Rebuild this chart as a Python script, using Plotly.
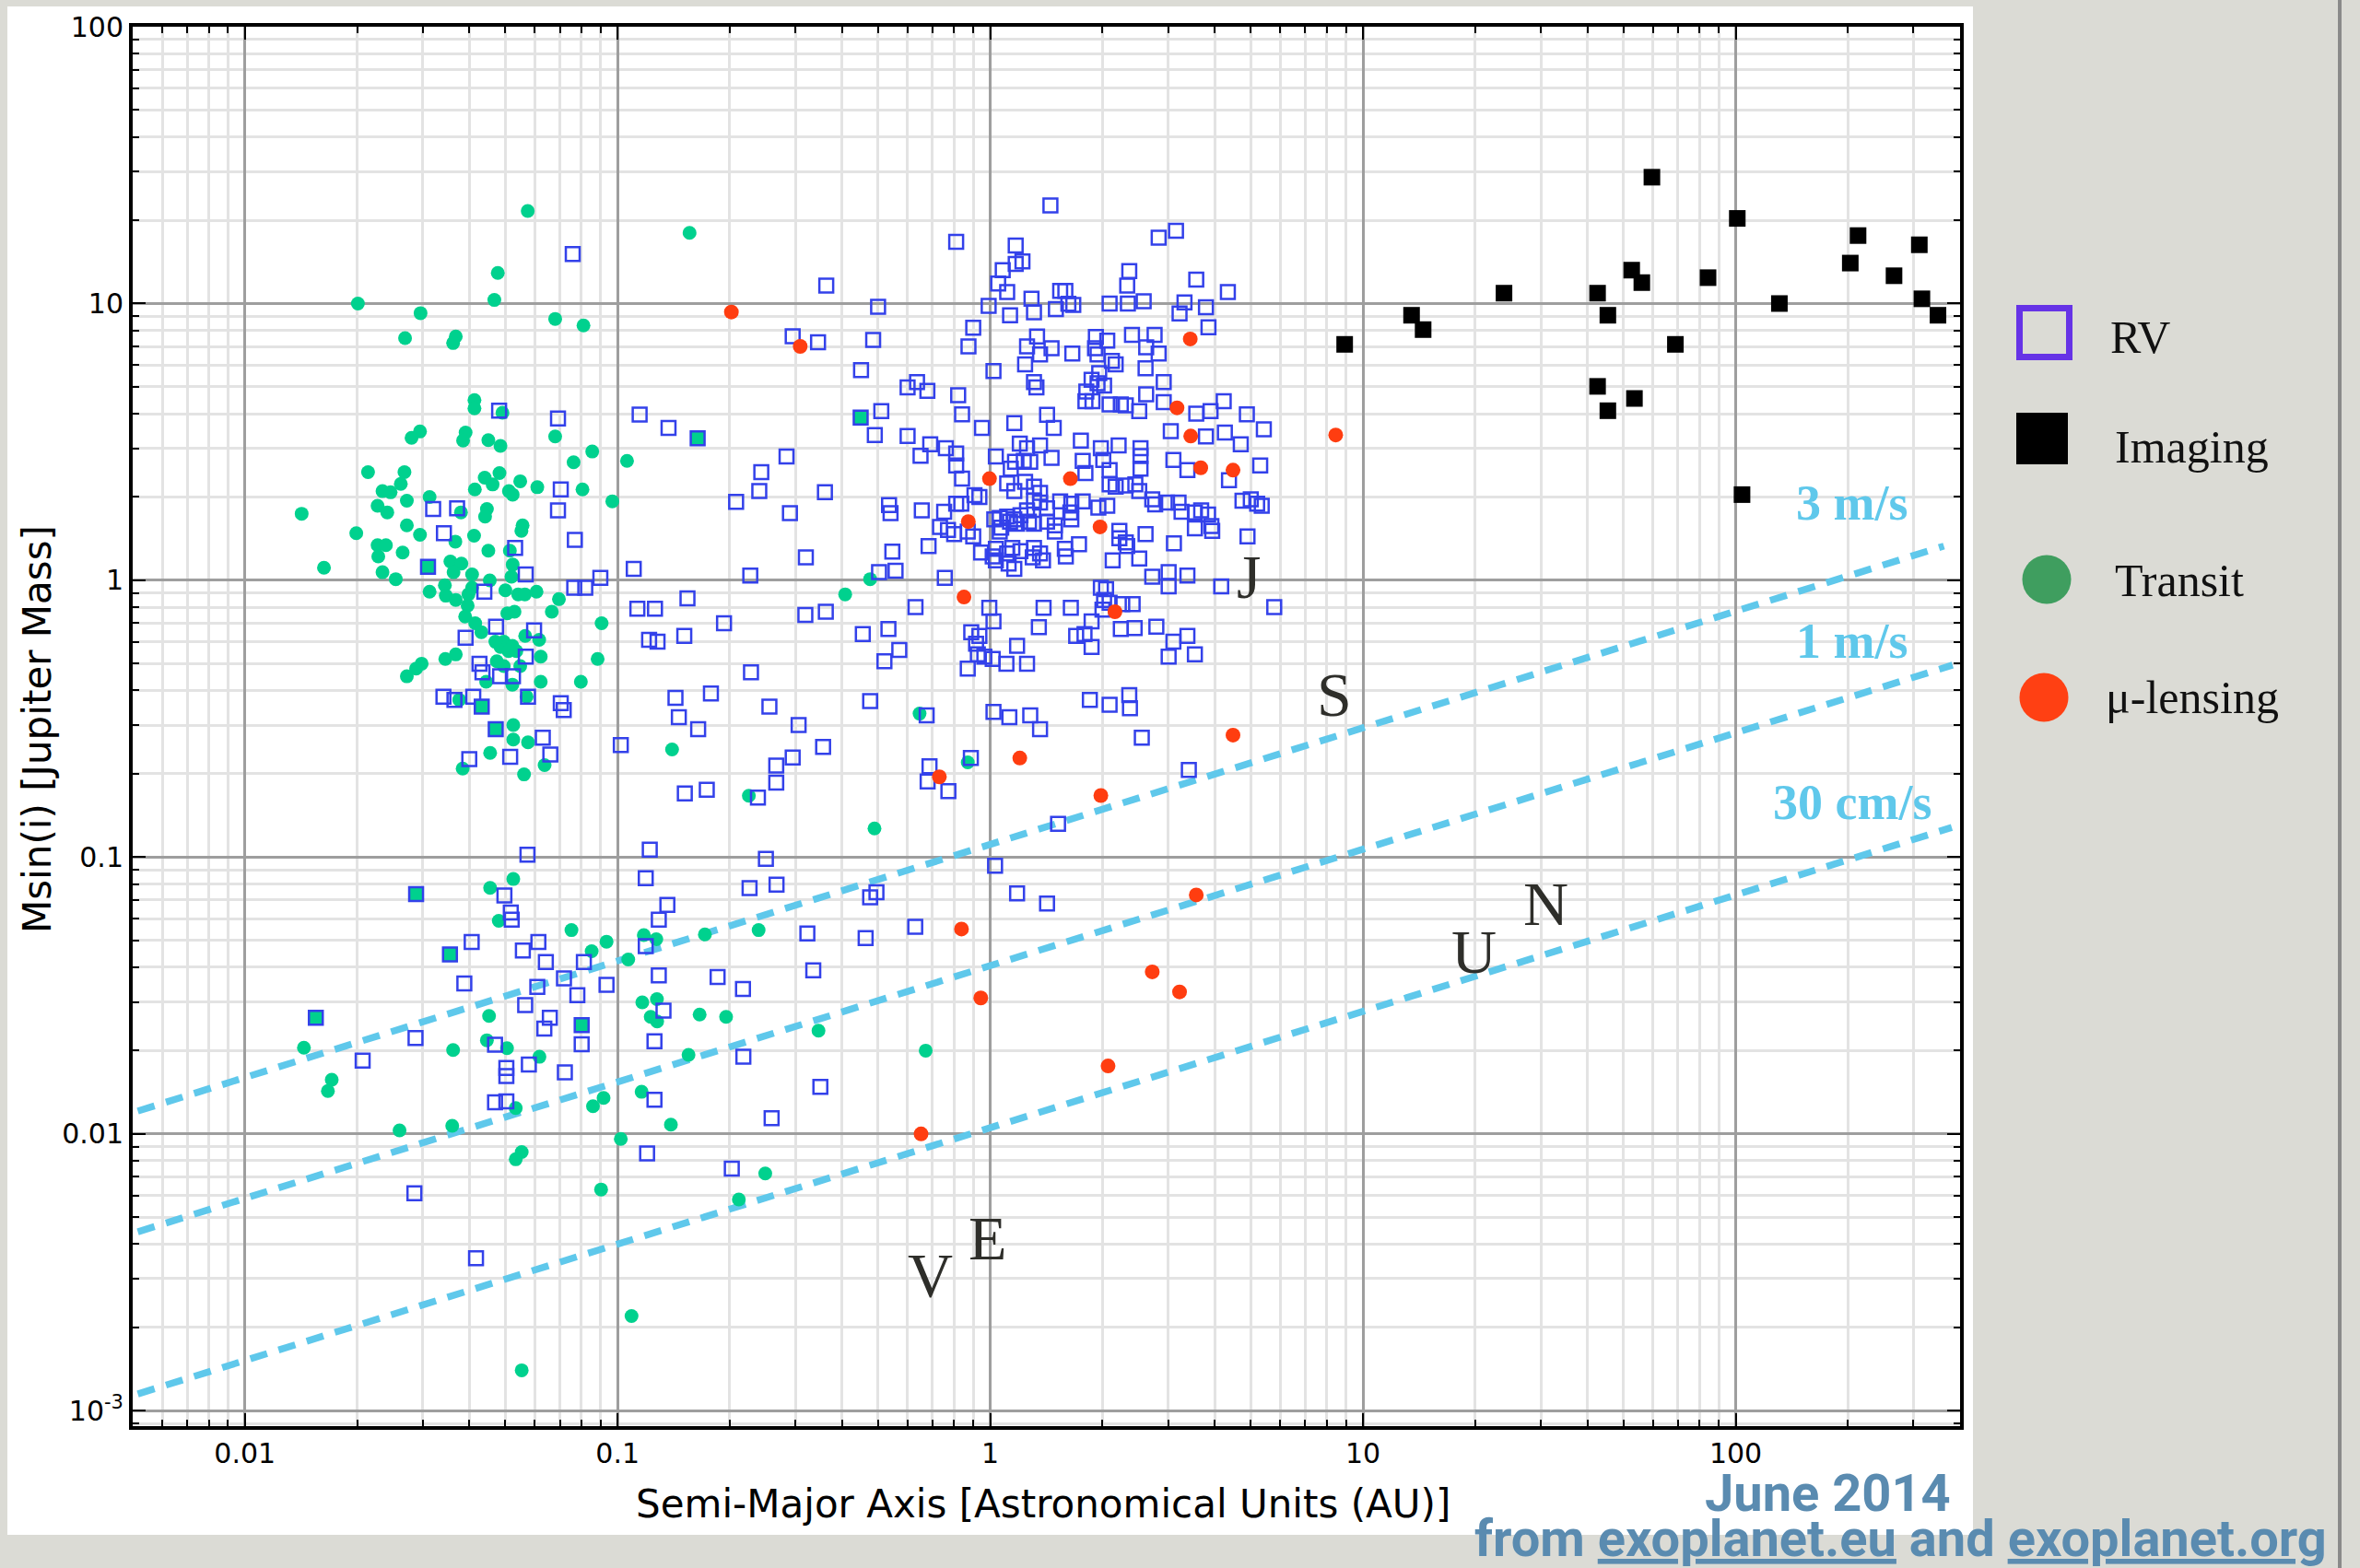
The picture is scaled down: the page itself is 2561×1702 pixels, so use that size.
import math
import plotly.graph_objects as go

# ---------------------------------------------------------------- page geometry
W, H = 2561, 1702
PL, PT, PWID, PHGT = 144, 29, 1983, 1519          # plot area (px)


def px(x):
    """page pixel column -> paper x"""
    return (x - PL) / PWID


def py(y):
    """page pixel row -> paper y"""
    return (PT + PHGT - y) / PHGT


# ---------------------------------------------------------------- axes
x_range_au = [0.005, 400]
y_range_mj = [0.00088, 100]
x_tickvals = [0.01, 0.1, 1, 10, 100]
x_ticktext = ["0.01", "0.1", "1", "10", "100"]
y_tickvals = [0.001, 0.01, 0.1, 1, 10, 100]
y_ticktext = ["10<sup>-3</sup>", "0.01", "0.1", "1", "10", "100"]

# ---------------------------------------------------------------- planets (a [AU], Msin(i) [MJ])
rv_points = [
    (1.45, 22.6), (0.81, 16.7), (2.83, 17.3), (3.15, 18.3), (1.17, 16.2), (1.22, 14.2), (1.17, 13.9),
    (1.08, 13.2), (1.05, 11.8), (0.363, 11.6), (2.36, 13.1), (2.33, 11.6), (3.57, 12.2), (4.34, 11.0),
    (1.11, 11.0), (1.54, 11.1), (1.59, 11.1), (1.29, 10.4), (1.67, 9.88), (1.62, 9.98), (0.99, 9.8),
    (0.50, 9.73), (1.13, 9.06), (1.31, 9.3), (1.50, 9.55), (2.09, 10.0), (2.34, 10.0), (2.58, 10.2),
    (3.32, 10.1), (3.22, 9.2), (3.79, 9.7), (3.85, 8.2), (0.90, 8.17), (0.345, 7.25), (0.485, 7.39),
    (0.874, 7.0), (1.335, 7.6), (1.255, 7.0), (1.36, 6.55), (1.46, 6.9), (1.66, 6.6), (1.92, 7.57),
    (2.06, 7.35), (1.91, 6.9), (1.94, 6.55), (2.40, 7.7), (2.76, 7.7), (2.62, 6.95), (2.83, 6.6),
    (2.17, 6.03), (2.12, 6.2), (2.61, 5.83), (1.24, 6.03), (1.02, 5.7), (0.45, 5.75), (1.96, 5.6),
    (1.87, 5.3), (2.02, 5.05), (1.94, 5.15), (2.92, 5.2), (1.31, 5.2), (1.33, 4.98), (0.60, 4.98),
    (0.636, 5.2), (0.678, 4.84), (0.82, 4.66), (1.81, 4.81), (1.80, 4.44), (1.88, 4.44), (2.09, 4.32),
    (2.24, 4.32), (2.31, 4.29), (2.51, 4.09), (2.62, 4.7), (2.92, 4.4), (3.57, 4.0), (3.90, 4.09),
    (4.23, 4.44), (4.88, 3.98), (5.42, 3.51), (3.05, 3.46), (3.79, 3.31), (4.26, 3.42), (4.70, 3.10),
    (0.51, 4.09), (0.49, 3.35), (0.60, 3.32), (0.84, 3.98), (0.95, 3.55), (1.16, 3.70), (1.42, 3.96),
    (1.48, 3.55), (0.65, 2.82), (0.69, 3.10), (0.76, 3.0), (0.81, 2.87), (0.81, 2.6), (1.035, 2.80),
    (1.20, 3.12), (1.255, 3.0), (1.36, 3.07), (1.46, 2.77), (1.165, 2.68), (1.135, 2.53), (1.23, 2.7),
    (1.28, 2.68), (1.75, 3.20), (1.77, 2.7), (1.80, 2.44), (1.98, 3.0), (2.21, 3.07), (2.09, 2.5),
    (2.01, 2.72), (2.53, 3.0), (2.53, 2.81), (2.53, 2.53), (3.10, 2.72), (3.38, 2.5), (5.30, 2.6),
    (4.37, 2.3), (0.84, 2.33), (1.11, 2.24), (1.16, 2.1), (1.24, 2.27), (1.31, 2.18), (1.36, 2.07),
    (2.09, 2.22), (2.17, 2.18), (2.31, 2.2), (2.45, 2.22), (2.51, 2.1), (0.36, 2.08), (0.535, 1.87),
    (0.54, 1.75), (0.655, 1.79), (0.752, 1.77), (0.81, 1.89), (0.836, 1.89), (0.935, 2.0), (0.907, 2.03),
    (1.06, 1.68), (1.11, 1.70), (1.16, 1.66), (1.205, 1.72), (1.255, 1.79), (1.31, 1.94), (1.36, 1.91),
    (1.42, 1.82), (1.54, 1.93), (1.65, 1.89), (1.64, 1.76), (1.77, 1.93), (1.95, 1.83), (2.06, 1.86),
    (2.72, 1.96), (2.77, 1.88), (2.98, 1.91), (3.2, 1.91), (3.26, 1.77), (3.54, 1.76), (3.68, 1.79),
    (3.84, 1.73), (3.92, 1.57), (3.94, 1.51), (4.75, 1.94), (5.0, 1.96), (5.2, 1.89), (5.35, 1.86),
    (4.90, 1.44), (0.733, 1.56), (0.77, 1.52), (0.80, 1.47), (0.87, 1.50), (0.90, 1.44), (1.025, 1.66),
    (1.07, 1.55), (1.06, 1.50), (1.13, 1.63), (1.18, 1.60), (1.27, 1.63), (1.31, 1.60), (1.42, 1.63),
    (1.49, 1.58), (1.49, 1.50), (1.65, 1.66), (3.54, 1.54), (2.22, 1.51), (2.61, 1.47), (2.22, 1.42),
    (2.31, 1.37), (2.33, 1.33), (2.51, 1.20), (3.11, 1.36), (0.683, 1.33), (0.546, 1.27), (0.945, 1.26),
    (1.035, 1.30), (1.015, 1.22), (1.11, 1.25), (1.146, 1.31), (1.205, 1.275), (1.31, 1.31), (1.36, 1.25),
    (1.385, 1.18), (1.30, 1.21), (1.585, 1.30), (1.595, 1.22), (1.73, 1.35), (2.13, 1.18), (1.035, 1.18),
    (1.12, 1.15), (1.16, 1.10), (0.503, 1.07), (0.557, 1.084), (0.755, 1.02), (2.72, 1.03), (3.01, 1.07),
    (3.01, 0.95), (3.38, 1.04), (4.165, 0.95), (1.98, 0.94), (2.045, 0.93), (2.02, 0.85), (2.09, 0.83),
    (2.0, 0.784), (2.26, 0.82), (2.41, 0.82), (5.78, 0.80), (0.362, 0.77), (0.63, 0.80), (0.994, 0.795),
    (1.02, 0.71), (1.39, 0.795), (1.645, 0.795), (1.35, 0.678), (0.455, 0.64), (0.533, 0.667),
    (0.889, 0.65), (0.935, 0.63), (0.916, 0.59), (1.18, 0.58), (1.70, 0.63), (1.79, 0.64), (1.87, 0.71),
    (2.24, 0.667), (2.44, 0.672), (2.79, 0.68), (3.10, 0.60), (3.38, 0.63), (1.87, 0.575), (0.57, 0.56),
    (0.52, 0.51), (0.926, 0.54), (0.964, 0.53), (1.015, 0.52), (0.87, 0.48), (1.105, 0.50), (1.255, 0.50),
    (3.01, 0.53), (3.54, 0.54), (0.476, 0.366), (1.02, 0.335), (1.125, 0.32), (1.28, 0.325), (1.36, 0.29),
    (1.85, 0.37), (2.09, 0.355), (2.36, 0.385), (2.37, 0.345), (0.675, 0.325), (0.356, 0.25), (2.55, 0.27),
    (0.0758, 15.1), (0.295, 7.62), (0.0481, 4.1), (0.0692, 3.84), (0.1146, 3.97), (0.137, 3.55),
    (0.284, 2.80), (0.243, 2.46), (0.24, 2.10), (0.208, 1.92), (0.29, 1.75), (0.0704, 2.13),
    (0.0692, 1.79), (0.032, 1.81), (0.0371, 1.82), (0.0342, 1.48), (0.0768, 1.40), (0.0531, 1.31),
    (0.32, 1.21), (0.0567, 1.05), (0.1105, 1.10), (0.227, 1.04), (0.0899, 1.02), (0.0765, 0.94),
    (0.0819, 0.94), (0.0439, 0.91), (0.113, 0.79), (0.126, 0.79), (0.154, 0.86), (0.193, 0.70),
    (0.319, 0.75), (0.1215, 0.61), (0.128, 0.60), (0.151, 0.63), (0.228, 0.465), (0.143, 0.376),
    (0.146, 0.32), (0.178, 0.39), (0.1645, 0.29), (0.2555, 0.35), (0.306, 0.30), (0.102, 0.254),
    (0.0391, 0.62), (0.0472, 0.68), (0.0597, 0.66), (0.0567, 0.53), (0.0426, 0.50), (0.0434, 0.465),
    (0.0484, 0.45), (0.0524, 0.45), (0.0341, 0.38), (0.0365, 0.37), (0.041, 0.38), (0.0575, 0.38),
    (0.0704, 0.36), (0.0717, 0.34), (0.063, 0.27), (0.066, 0.235),
    (0.295, 0.229), (0.687, 0.213), (0.679, 0.1875), (0.772, 0.173), (0.887, 0.228), (1.52, 0.132),
    (3.41, 0.2065), (1.03, 0.093), (1.18, 0.074), (1.42, 0.068), (0.476, 0.0716), (0.495, 0.0747),
    (0.323, 0.053), (0.463, 0.051), (0.629, 0.056), (0.335, 0.039), (0.35, 0.0148),
    (0.040, 0.226), (0.0515, 0.2305), (0.2665, 0.214), (0.2665, 0.186), (0.238, 0.164), (0.1515, 0.17),
    (0.1735, 0.175), (0.122, 0.1065), (0.0573, 0.102), (0.25, 0.0985), (0.119, 0.084), (0.226, 0.0773),
    (0.267, 0.0795), (0.136, 0.0672), (0.129, 0.0594), (0.0497, 0.0727), (0.0517, 0.0631), (0.052, 0.0594),
    (0.0406, 0.0494), (0.0388, 0.035), (0.0613, 0.0494), (0.0557, 0.046), (0.0642, 0.0418),
    (0.0812, 0.0418), (0.0718, 0.0365), (0.0609, 0.034), (0.078, 0.0317), (0.0934, 0.0346),
    (0.119, 0.0477), (0.129, 0.0374), (0.1855, 0.0369), (0.217, 0.0334), (0.0565, 0.0292),
    (0.0658, 0.0263), (0.0636, 0.024), (0.0801, 0.0211), (0.1256, 0.0216), (0.1328, 0.0279),
    (0.2175, 0.019), (0.0722, 0.0167), (0.0578, 0.0178), (0.0469, 0.021), (0.0287, 0.0222),
    (0.0207, 0.0184), (0.0503, 0.0173), (0.0503, 0.0162), (0.0469, 0.013), (0.0503, 0.0131),
    (0.1256, 0.0133), (0.259, 0.0114), (0.120, 0.0085), (0.2025, 0.0075), (0.0285, 0.0061),
    (0.0417, 0.00356),
]

# planets found by RV that also transit
rv_transit_points = [
    (0.164, 3.26), (0.031, 1.12), (0.0432, 0.35), (0.0471, 0.29), (0.449, 3.87),
    (0.0288, 0.0736), (0.0355, 0.0445), (0.0155, 0.0263), (0.0801, 0.0247),
]

transit_points = [
    (0.0574, 21.6), (0.156, 18.0), (0.0477, 12.9), (0.0467, 10.3), (0.0201, 10.0), (0.0296, 9.23),
    (0.068, 8.8), (0.081, 8.33), (0.0269, 7.5), (0.0368, 7.6), (0.0362, 7.2), (0.0413, 4.48),
    (0.0413, 4.18), (0.0491, 4.03), (0.0295, 3.45), (0.028, 3.27), (0.0391, 3.42), (0.0385, 3.2),
    (0.045, 3.21), (0.0485, 3.06), (0.068, 3.31), (0.0855, 2.92), (0.0762, 2.67), (0.106, 2.70),
    (0.0214, 2.46), (0.0268, 2.46), (0.0262, 2.23), (0.0482, 2.44), (0.044, 2.35), (0.0462, 2.22),
    (0.0548, 2.28), (0.0609, 2.17), (0.0511, 2.10), (0.0523, 2.04), (0.0414, 2.13), (0.0805, 2.13),
    (0.0968, 1.93), (0.0234, 2.10), (0.0246, 2.08), (0.0272, 1.94), (0.0227, 1.86), (0.0241, 1.76),
    (0.0142, 1.74), (0.0313, 2.00), (0.038, 1.76), (0.0446, 1.81), (0.0441, 1.70), (0.0272, 1.58),
    (0.0556, 1.58), (0.0552, 1.51), (0.0199, 1.48), (0.0295, 1.46), (0.0367, 1.38), (0.0412, 1.45),
    (0.0227, 1.34), (0.0239, 1.34), (0.0265, 1.26), (0.0228, 1.22), (0.045, 1.28), (0.0514, 1.28),
    (0.0163, 1.11), (0.0234, 1.07), (0.0254, 1.01), (0.0356, 1.17), (0.0381, 1.15), (0.0363, 1.07),
    (0.0407, 1.05), (0.0523, 1.14), (0.0519, 1.03), (0.0454, 1.00), (0.0344, 0.96), (0.0313, 0.91),
    (0.0346, 0.88), (0.0368, 0.85), (0.0398, 0.89), (0.0407, 0.94), (0.050, 0.92), (0.0541, 0.89),
    (0.0564, 0.89), (0.0606, 0.91), (0.0696, 0.855), (0.0666, 0.77), (0.0906, 0.70), (0.0884, 0.52),
    (0.0797, 0.43), (0.0396, 0.81), (0.039, 0.74), (0.0415, 0.70), (0.0431, 0.65), (0.0506, 0.76),
    (0.0529, 0.77), (0.0495, 0.60), (0.0522, 0.58), (0.0565, 0.63), (0.0616, 0.61), (0.0622, 0.53),
    (0.0622, 0.43), (0.0345, 0.52), (0.0368, 0.54), (0.0298, 0.50), (0.0288, 0.48), (0.0272, 0.45),
    (0.0474, 0.51), (0.0495, 0.49), (0.0548, 0.49), (0.0444, 0.43), (0.0522, 0.42), (0.057, 0.38),
    (0.0376, 0.37), (0.0525, 0.30), (0.0525, 0.266), (0.0575, 0.26), (0.0455, 0.238), (0.14, 0.245),
    (0.0485, 0.575), (0.051, 0.555), (0.0535, 0.555), (0.047, 0.60),
    (0.476, 1.01), (0.408, 0.89), (0.646, 0.33),
    (0.87, 0.22), (0.489, 0.127), (0.346, 0.0236), (0.671, 0.0200),
    (0.0637, 0.215), (0.0561, 0.199), (0.0384, 0.209), (0.225, 0.1666), (0.0525, 0.0834),
    (0.0455, 0.0774), (0.048, 0.0589), (0.0752, 0.0545), (0.0934, 0.0495), (0.0852, 0.0457),
    (0.1068, 0.0427), (0.1176, 0.0523), (0.127, 0.0505), (0.1715, 0.0526), (0.239, 0.0545),
    (0.0452, 0.0267), (0.0362, 0.0201), (0.0446, 0.0218), (0.0505, 0.0204), (0.0617, 0.019),
    (0.1165, 0.0299), (0.1275, 0.0307), (0.1227, 0.0265), (0.1277, 0.0255), (0.166, 0.027),
    (0.1955, 0.0265), (0.155, 0.0193), (0.116, 0.0142), (0.0917, 0.0135), (0.0144, 0.0205),
    (0.0171, 0.0157), (0.0167, 0.0143),
    (0.0533, 0.0124), (0.0859, 0.0126), (0.139, 0.0108), (0.026, 0.0103), (0.036, 0.0107),
    (0.102, 0.0096), (0.0553, 0.0086), (0.0533, 0.0081), (0.0903, 0.0063), (0.249, 0.0072),
    (0.2115, 0.0058), (0.109, 0.0022), (0.0553, 0.0014),
]

lensing_points = [
    (0.202, 9.32), (0.309, 7.0), (3.44, 7.45), (3.17, 4.2), (3.45, 3.32), (3.67, 2.55), (4.48, 2.5),
    (0.995, 2.33), (1.64, 2.33), (0.873, 1.63), (1.97, 1.56), (0.85, 0.87), (2.16, 0.77), (4.48, 0.276),
    (8.45, 3.35), (1.20, 0.228), (0.73, 0.195), (1.98, 0.167), (3.57, 0.073), (0.837, 0.055),
    (2.72, 0.0385), (3.22, 0.0326), (0.943, 0.031), (2.07, 0.0176), (0.652, 0.0100),
]

imaging_points = [
    (59.6, 28.6), (101, 20.3), (213, 17.6), (311, 16.3), (203, 14.0), (266, 12.6), (52.6, 13.2),
    (56.0, 11.9), (84.3, 12.4), (23.9, 10.9), (42.6, 10.9), (45.4, 9.07), (131, 10.0), (316, 10.4),
    (349, 9.07), (13.5, 9.07), (14.5, 8.05), (8.93, 7.12), (68.9, 7.12), (42.6, 5.02), (45.4, 4.10),
    (53.5, 4.54), (104, 2.04),
]

# RV semi-amplitude detection limits (end points of each line)
k_labels = ["3 m/s", "1 m/s", "30 cm/s"]
k_line_au = [[0.00516, 362], [0.00516, 382], [0.00516, 380]]
k_line_mass = [[0.0121, 1.33], [0.00443, 0.494], [0.00115, 0.128]]
k_label_au = 205.6
k_label_mass = [1.90, 0.603, 0.158]

# Solar System planets (letter positions)
solar_names = ["V", "E", "J", "S", "U", "N"]
solar_au = [0.69, 0.987, 4.93, 8.38, 19.9, 31.0]
solar_mass = [0.0031, 0.0042, 1.03, 0.386, 0.0455, 0.068]

# ---------------------------------------------------------------- colours
C_RV = "#3341ea"
C_TRANSIT = "#00d18e"
C_LENS = "#ff3d10"
C_IMG = "#000000"
C_K = "#5fc8eb"
C_BG = "#dbdbd5"


def split(points):
    return [p[0] for p in points], [p[1] for p in points]


fig = go.Figure()

# detection-limit lines
for au, mass in zip(k_line_au, k_line_mass):
    fig.add_trace(go.Scatter(x=au, y=mass, mode="lines",
                             line=dict(color=C_K, width=7.5, dash="19px,13px"),
                             hoverinfo="skip"))

tx, ty = split(transit_points)
fig.add_trace(go.Scatter(x=tx, y=ty, mode="markers", name="Transit",
                         marker=dict(symbol="circle", size=15, color=C_TRANSIT, line=dict(width=0))))

rx, ry = split(rv_points)
fig.add_trace(go.Scatter(x=rx, y=ry, mode="markers", name="RV",
                         marker=dict(symbol="square-open", size=15, color=C_RV, line=dict(width=2.5))))

bx, by = split(rv_transit_points)
fig.add_trace(go.Scatter(x=bx, y=by, mode="markers", name="RV + transit",
                         marker=dict(symbol="square", size=15, color=C_TRANSIT,
                                     line=dict(color=C_RV, width=2.5))))

lx, ly = split(lensing_points)
fig.add_trace(go.Scatter(x=lx, y=ly, mode="markers", name="μ-lensing",
                         marker=dict(symbol="circle", size=16, color=C_LENS, line=dict(width=0))))

ix, iy = split(imaging_points)
fig.add_trace(go.Scatter(x=ix, y=iy, mode="markers", name="Imaging",
                         marker=dict(symbol="square", size=18, color=C_IMG, line=dict(width=0))))


def minor_vals(vmin, vmax):
    out = []
    for e in range(-5, 4):
        for m in range(2, 10):
            v = m * 10 ** e
            if vmin <= v <= vmax:
                out.append(v)
    return out


axis_common = dict(
    type="log", showline=True, linecolor="black", linewidth=4, mirror="allticks",
    ticks="inside", ticklen=14, tickwidth=2, tickcolor="black",
    showgrid=True, gridcolor="#9e9e9e", gridwidth=2.5, zeroline=False,
    tickfont=dict(family="DejaVu Sans", size=30, color="black"),
    tickmode="array",
)

fig.update_xaxes(**axis_common,
                 range=[math.log10(x_range_au[0]), math.log10(x_range_au[1])],
                 tickvals=x_tickvals, ticktext=x_ticktext,
                 minor=dict(tickmode="array", tickvals=minor_vals(*x_range_au), ticks="inside",
                            ticklen=7, tickwidth=2, tickcolor="black",
                            showgrid=True, gridcolor="#e3e3e3", gridwidth=2.5))
fig.update_yaxes(**axis_common,
                 range=[math.log10(y_range_mj[0]), math.log10(y_range_mj[1])],
                 tickvals=y_tickvals, ticktext=y_ticktext,
                 minor=dict(tickmode="array", tickvals=minor_vals(*y_range_mj), ticks="inside",
                            ticklen=7, tickwidth=2, tickcolor="black",
                            showgrid=True, gridcolor="#e3e3e3", gridwidth=2.5))

shapes = [
    # white card behind the chart
    dict(type="rect", xref="paper", yref="paper", layer="below",
         x0=px(8), x1=px(2141), y0=py(1666), y1=py(7),
         fillcolor="white", line=dict(width=0)),
    # slide rule on the right
    dict(type="line", xref="paper", yref="paper", x0=px(2539), x1=px(2539), y0=-0.2, y1=1.2,
         line=dict(color="#8a8a8a", width=4)),
    # legend swatches
    dict(type="rect", xref="paper", yref="paper", x0=px(2191.5), x1=px(2245.5), y0=py(387.5), y1=py(334.5),
         line=dict(color="#6633e6", width=7), fillcolor="rgba(0,0,0,0)"),
    dict(type="rect", xref="paper", yref="paper", x0=px(2188), x1=px(2244), y0=py(504), y1=py(448),
         line=dict(width=0), fillcolor="black"),
    dict(type="circle", xref="paper", yref="paper", x0=px(2194.5), x1=px(2247.5), y0=py(655.5), y1=py(602.5),
         line=dict(width=0), fillcolor="#3f9e5f"),
    dict(type="circle", xref="paper", yref="paper", x0=px(2191.5), x1=px(2244.5), y0=py(783.5), y1=py(730.5),
         line=dict(width=0), fillcolor="#ff4013"),
]

annotations = []
legend_font = dict(family="Liberation Serif, Times New Roman, serif", size=50, color="#111111")
for text, x, y in [("RV", 2288, 366), ("Imaging", 2293, 485), ("Transit", 2293, 630), ("μ-lensing", 2283, 757)]:
    annotations.append(dict(text=text, xref="paper", yref="paper", x=px(x), y=py(y),
                            xanchor="left", yanchor="middle", showarrow=False, font=legend_font))

# axis titles
annotations.append(dict(text="Semi-Major Axis [Astronomical Units (AU)]", xref="paper", yref="paper",
                        x=px(1132), y=py(1632), xanchor="center", yanchor="middle", showarrow=False,
                        font=dict(family="DejaVu Sans", size=42, color="black")))
annotations.append(dict(text="Msin(i) [Jupiter Mass]", xref="paper", yref="paper",
                        x=px(41), y=py(792), xanchor="center", yanchor="middle", showarrow=False,
                        textangle=-90, font=dict(family="DejaVu Sans", size=42, color="black")))

# detection-limit labels
for text, m in zip(k_labels, k_label_mass):
    annotations.append(dict(text="<b>%s</b>" % text, x=math.log10(k_label_au), y=math.log10(m),
                            xref="x", yref="y", xanchor="center", yanchor="middle", showarrow=False,
                            font=dict(family="Liberation Serif, serif", size=54, color=C_K)))

# Solar System letters
for name, a, m in zip(solar_names, solar_au, solar_mass):
    annotations.append(dict(text=name, x=math.log10(a), y=math.log10(m), xref="x", yref="y",
                            xanchor="center", yanchor="middle", showarrow=False,
                            font=dict(family="Liberation Serif, serif", size=68, color="#2e2e2a")))

# credits
credit_font = dict(family="Roboto, sans-serif", size=56, color="#5a8bb0", weight="bold")
annotations.append(dict(text="June 2014", xref="paper", yref="paper", x=px(2119), y=py(1621),
                        xanchor="right", yanchor="middle", showarrow=False, font=credit_font))
annotations.append(dict(text="from <u>exoplanet.eu</u> and <u>exoplanet.org</u>", xref="paper", yref="paper",
                        x=px(1598), y=py(1670), xanchor="left", yanchor="middle", showarrow=False,
                        font=credit_font))

fig.update_layout(
    width=W, height=H,
    margin=dict(l=PL, r=W - PL - PWID, t=PT, b=H - PT - PHGT, autoexpand=False),
    paper_bgcolor=C_BG, plot_bgcolor="white",
    showlegend=False, shapes=shapes, annotations=annotations,
)

fig.write_html("out.html")
